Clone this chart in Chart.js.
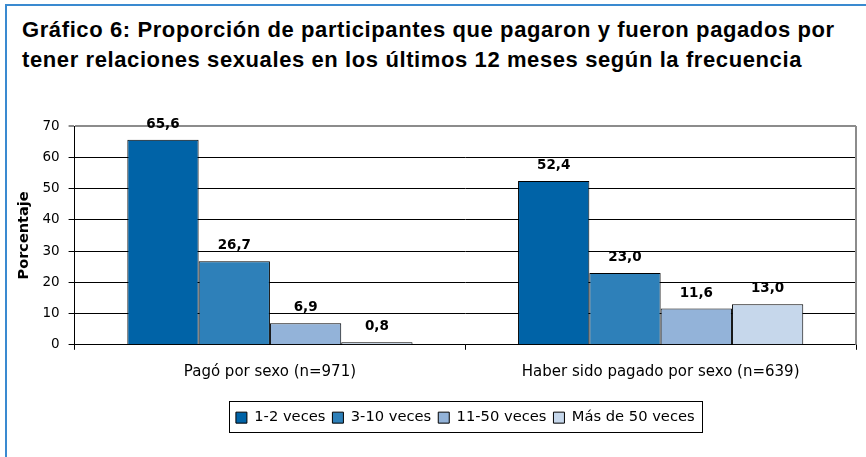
<!DOCTYPE html>
<html>
<head>
<meta charset="utf-8">
<script src="https://cdn.jsdelivr.net/npm/chart.js@4.4.1/dist/chart.umd.min.js"></script>
<style>
  html, body { margin: 0; padding: 0; background: #fff; }
  #wrap { position: relative; width: 866px; height: 457px; overflow: hidden; background: #fff; }
  #frame { position: absolute; left: 5px; top: 4px; width: 900px; height: 500px;
           border-left: 2px solid #3a8ad0; border-top: 2px solid #3a8ad0; }
  #title { position: absolute; left: 22px; top: 15px; margin: 0;
           font-family: "Liberation Sans", Arial, sans-serif; font-weight: bold;
           font-size: 22px; letter-spacing: 0.6px; line-height: 30px; color: #000; white-space: nowrap; }
  #c { position: absolute; left: 0; top: 0; }
</style>
</head>
<body>
<div id="wrap">
  <div id="frame"></div>
  <div id="title">Gráfico 6: Proporción de participantes que pagaron y fueron pagados por<br>tener relaciones sexuales en los últimos 12 meses según la frecuencia</div>
  <canvas id="c" width="866" height="457"></canvas>
</div>
<script>
// ---- data ----
const categories = ['Pagó por sexo (n=971)', 'Haber sido pagado por sexo (n=639)'];
const seriesNames = ['1-2 veces', '3-10 veces', '11-50 veces', 'Más de 50 veces'];
const veces1a2 = [65.6, 52.4];
const veces3a10 = [26.7, 23.0];
const veces11a50 = [6.9, 11.6];
const vecesMas50 = [0.8, 13.0];
const yMin = 0, yMax = 70, yStep = 10;

const seriesColors = ['#0063a7', '#2e80b9', '#93b3d9', '#c6d7eb'];
const seriesValues = [veces1a2, veces3a10, veces11a50, vecesMas50];

Chart.defaults.font.family = '"DejaVu Sans", Verdana, sans-serif';
Chart.defaults.color = '#000';

const valueLabels = {
  id: 'valueLabels',
  afterDatasetsDraw(chart) {
    const ctx = chart.ctx;
    ctx.save();
    ctx.font = 'bold 13.5px "DejaVu Sans", Verdana, sans-serif';
    ctx.fillStyle = '#000';
    ctx.textAlign = 'center';
    ctx.textBaseline = 'alphabetic';
    chart.data.datasets.forEach((ds, di) => {
      const meta = chart.getDatasetMeta(di);
      meta.data.forEach((bar, i) => {
        const v = ds.data[i];
        ctx.fillText(v.toFixed(1).replace('.', ','), bar.x, bar.y - 12);
      });
    });
    ctx.restore();
  }
};

const frameAndLegendBox = {
  id: 'frameAndLegendBox',
  beforeDatasetsDraw(chart) {
    const {ctx, chartArea} = chart;
    ctx.save();
    ctx.strokeStyle = '#8c8c8c';
    ctx.lineWidth = 2;
    ctx.beginPath();
    ctx.moveTo(chartArea.right, chartArea.top);
    ctx.lineTo(chartArea.right, chartArea.bottom);
    ctx.stroke();
    ctx.restore();
  },
  afterDraw(chart) {
    const lg = chart.legend;
    if (!lg || !lg.legendHitBoxes || !lg.legendHitBoxes.length) return;
    const hb = lg.legendHitBoxes;
    const left = hb[0].left - 7;
    const last = hb[hb.length - 1];
    const right = last.left + last.width + 7;
    const cy = hb[0].top + hb[0].height / 2;
    const ctx = chart.ctx;
    ctx.save();
    ctx.strokeStyle = '#000';
    ctx.lineWidth = 1;
    ctx.strokeRect(Math.round(left) + 0.5, Math.round(cy - 17) + 0.5, Math.round(right - left), 31);
    ctx.restore();
  }
};

new Chart(document.getElementById('c'), {
  type: 'bar',
  data: {
    labels: categories,
    datasets: seriesNames.map((name, k) => ({
      label: name,
      data: seriesValues[k],
      backgroundColor: seriesColors[k],
      borderColor: '#000',
      borderWidth: 1,
      categoryPercentage: 0.73,
      barPercentage: 1
    }))
  },
  options: {
    responsive: false,
    animation: false,
    events: [],
    layout: { padding: { top: 126, left: 4, right: 10, bottom: 22 } },
    scales: {
      x: {
        grid: { display: true, drawOnChartArea: false, drawTicks: true, tickLength: 5, color: '#000', offset: true },
        border: { display: true, color: '#000', width: 1 },
        ticks: { font: { size: 15 }, color: '#000', padding: 13, maxRotation: 0 },
        afterFit: (s) => { s.height = 58.5; }
      },
      y: {
        min: yMin, max: yMax,
        ticks: { stepSize: yStep, font: { size: 13.5 }, color: '#000', padding: 9 },
        grid: {
          color: (c) => (c.tick && c.tick.value === yMax) ? '#8c8c8c' : '#000',
          lineWidth: (c) => (c.tick && c.tick.value === yMax) ? 2 : 1,
          tickLength: 6
        },
        border: { display: true, color: '#000', width: 1 },
        title: { display: true, text: 'Porcentaje', font: { size: 14.5, weight: 'bold' }, color: '#000', padding: { top: 12, bottom: 0 } }
      }
    },
    plugins: {
      title: { display: false },
      tooltip: { enabled: false },
      legend: {
        position: 'bottom',
        fullSize: false,
        labels: {
          boxWidth: 11, boxHeight: 11, padding: 7,
          font: { size: 14.7 }, color: '#000',
          generateLabels: (chart) => chart.data.datasets.map((ds, i) => ({
            text: ds.label, fillStyle: ds.backgroundColor, strokeStyle: '#000', lineWidth: 1, hidden: false, datasetIndex: i
          }))
        }
      }
    }
  },
  plugins: [valueLabels, frameAndLegendBox]
});
</script>
</body>
</html>
